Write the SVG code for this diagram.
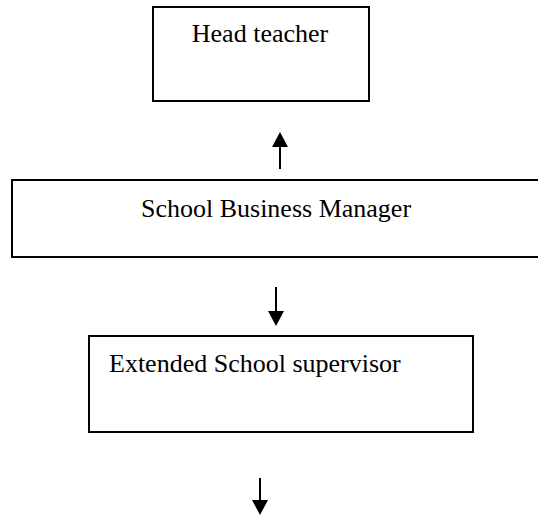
<svg xmlns="http://www.w3.org/2000/svg" width="538" height="515" viewBox="0 0 538 515">
<style>
.box{fill:#fff;stroke:#000;stroke-width:2}
.lbl{font-family:"Liberation Serif","Times New Roman",serif;font-size:26px;fill:#000}
.conn{stroke:#000;stroke-width:2;fill:none}
</style>
<defs>
<marker id="ah" markerUnits="userSpaceOnUse" markerWidth="16" markerHeight="16" viewBox="0 0 15 16" refX="0" refY="8" orient="auto">
<path d="M0,0 L15,8 L0,16 Z" fill="#000"/>
</marker>
</defs>
<rect width="538" height="515" fill="#fff"/>
<g id="head-teacher">
<rect class="box" x="153" y="7" width="216" height="94"/>
<text class="lbl" x="260" y="42" text-anchor="middle">Head teacher</text>
</g>
<g id="school-business-manager">
<rect class="box" x="12" y="180" width="540" height="77"/>
<text class="lbl" x="276" y="217" text-anchor="middle">School Business Manager</text>
</g>
<g id="extended-school-supervisor">
<rect class="box" x="89" y="336" width="384" height="96"/>
<text class="lbl" x="109" y="372">Extended School supervisor</text>
</g>
<g id="connectors">
<line class="conn" x1="280" y1="169" x2="280" y2="147" marker-end="url(#ah)"/>
<line class="conn" x1="276" y1="287" x2="276" y2="311" marker-end="url(#ah)"/>
<line class="conn" x1="260" y1="478" x2="260" y2="500" marker-end="url(#ah)"/>
</g>
</svg>
